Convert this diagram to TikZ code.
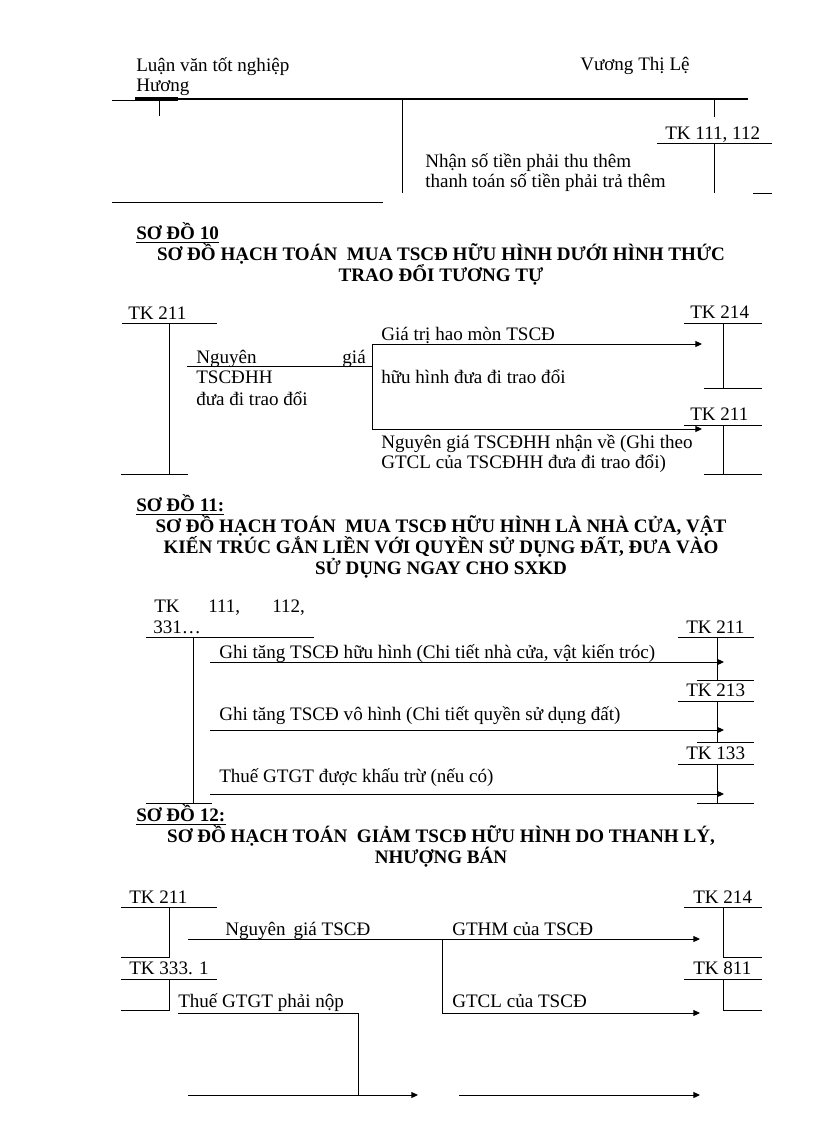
\documentclass[tikz,border=0pt]{standalone}
\usepackage{fontspec}
\setmainfont{Liberation Serif}
\usetikzlibrary{arrows.meta}
\newcommand\myfs{\fontsize{14.3}{16}\selectfont}
\begin{document}
\begin{tikzpicture}[x=0.75pt,y=-0.75pt,
  txt/.style={anchor=base west,inner sep=0,font=\myfs},
  txte/.style={anchor=base east,inner sep=0,font=\myfs},
  ttl/.style={anchor=base,inner sep=0,font=\myfs\bfseries},
  lbl/.style={anchor=base west,inner sep=0,font=\myfs\bfseries},
  ln/.style={line width=0.75pt,black},
  arr/.style={ln,-{Triangle[length=5pt,width=4.5pt]}},
  uline/.style={line width=1pt}]
\fill[white] (0,0) rectangle (816,1123);
\useasboundingbox (0,0) rectangle (816,1123);

% ---------- header ----------
\node[txt] (h1) at (136,72) {Luận văn tốt nghiệp};
\node[txt] (h2) at (136,92) {Hương};
\node[txt] (h3) at (580,71) {Vương Thị Lệ};
\coordinate (hl0) at (112,101); \coordinate (hl1) at (135,101);
\draw[ln] (hl0) -- (hl1);
\coordinate (hk0) at (135,99); \coordinate (hk1) at (748,99); \coordinate (hk2) at (178,99);
\draw[line width=1.6pt] (hk0) -- (hk1);
\draw[line width=2.3pt] (hk0) -- (hk2);
\coordinate (tk0) at (159,101); \coordinate (tk1) at (159,116);
\draw[ln] (tk0) -- (tk1);
\coordinate (v0) at (402,99); \coordinate (v1) at (402,193);
\draw[ln] (v0) -- (v1);
\coordinate (w0) at (714,99); \coordinate (w1) at (714,117);
\draw[ln] (w0) -- (w1);
\node[txt] (tk112) at (665,140) {TK 111, 112};
\coordinate (a0) at (657,144); \coordinate (a1) at (772,144);
\draw[ln] (a0) -- (a1);
\coordinate (w2) at (714,144); \coordinate (w3) at (714,193);
\draw[ln] (w2) -- (w3);
\node[txt] (n1) at (425,168) {Nhận số tiền phải thu thêm};
\node[txt] (n2) at (425,188) {thanh toán số tiền phải trả thêm};
\coordinate (s0) at (753,194); \coordinate (s1) at (772,194);
\draw[ln] (s0) -- (s1);
\coordinate (b0) at (112,203); \coordinate (b1) at (383,203);
\draw[ln] (b0) -- (b1);

% ---------- So do 10 ----------
\node[lbl] (sd10) at (136,239) {SƠ ĐỒ 10};
\draw[uline] ([yshift=-2.5pt]sd10.base west) -- ([yshift=-2.5pt]sd10.base east);
\node[ttl] (t10a) at (441,260) {SƠ ĐỒ HẠCH TOÁN \ MUA TSCĐ HỮU HÌNH DƯỚI HÌNH THỨC};
\node[ttl] (t10b) at (441,281) {TRAO ĐỔI TƯƠNG TỰ};

\node[txt] (L211) at (128,319) {TK 211};
\coordinate (L0) at (122,323); \coordinate (L1) at (217,323);
\coordinate (L2) at (169,323); \coordinate (L3) at (169,474);
\coordinate (L4) at (121,474); \coordinate (L5) at (188,474);
\draw[ln] (L0) -- (L1); \draw[ln] (L2) -- (L3); \draw[ln] (L4) -- (L5);
\node[txt] (ng) at (196,363) {Nguyên};
\node[txte] (gia) at (366,363) {giá};
\node[txt] (tsc) at (196,383) {TSCĐHH};
\node[txt] (dua) at (196,405) {đưa đi trao đổi};
\coordinate (m0) at (187,366); \coordinate (m1) at (372,366);
\coordinate (m2) at (372,344); \coordinate (m3) at (372,429);
\coordinate (r1) at (702,344); \coordinate (r2) at (702,429);
\draw[ln] (m0) -- (m1);
\draw[ln] (m2) -- (m3);
\draw[arr] (m2) -- (r1);
\draw[arr] (m3) -- (r2);
\node[txt] (g1) at (381,340) {Giá trị hao mòn TSCĐ};
\node[txt] (g2) at (381,383) {hữu hình đưa đi trao đổi};
\node[txt] (g3) at (381,448) {Nguyên giá TSCĐHH nhận về (Ghi theo};
\node[txt] (g4) at (381,468) {GTCL của TSCĐHH đưa đi trao đổi)};

\node[txt] (R214) at (690,318) {TK 214};
\coordinate (p0) at (684,323); \coordinate (p1) at (762,323);
\coordinate (p2) at (723,323); \coordinate (p3) at (723,388);
\coordinate (p4) at (704,388); \coordinate (p5) at (762,388);
\draw[ln] (p0) -- (p1); \draw[ln] (p2) -- (p3); \draw[ln] (p4) -- (p5);
\node[txt] (R211) at (690,420) {TK 211};
\coordinate (q0) at (684,425); \coordinate (q1) at (762,425);
\coordinate (q2) at (723,425); \coordinate (q3) at (723,474);
\coordinate (q4) at (704,474); \coordinate (q5) at (762,474);
\draw[ln] (q0) -- (q1); \draw[ln] (q2) -- (q3); \draw[ln] (q4) -- (q5);

% ---------- So do 11 ----------
\node[lbl] (sd11) at (136,511) {SƠ ĐỒ 11:};
\draw[uline] ([yshift=-2.5pt]sd11.base west) -- ([yshift=-2.5pt]sd11.base east);
\node[ttl] (t11a) at (441,532) {SƠ ĐỒ HẠCH TOÁN \ MUA TSCĐ HỮU HÌNH LÀ NHÀ CỬA, VẬT};
\node[ttl] (t11b) at (441,553) {KIẾN TRÚC GẮN LIỀN VỚI QUYỀN SỬ DỤNG ĐẤT, ĐƯA VÀO};
\node[ttl] (t11c) at (441,574) {SỬ DỤNG NGAY CHO SXKD};

\node[txt] (k1) at (154,612) {TK};
\node[txt] (k2) at (208,612) {111,};
\node[txt] (k3) at (272,612) {112,};
\node[txt] (k4) at (153,633) {331…};
\coordinate (c0) at (146,637); \coordinate (c1) at (314,637);
\coordinate (c2) at (193,637); \coordinate (c3) at (193,803);
\coordinate (c4) at (146,803); \coordinate (c5) at (212,803);
\draw[ln] (c0) -- (c1); \draw[ln] (c2) -- (c3); \draw[ln] (c4) -- (c5);
\node[txt] (e1) at (219,658) {Ghi tăng TSCĐ hữu hình (Chi tiết nhà cửa, vật kiến tróc)};
\node[txt] (e2) at (219,720) {Ghi tăng TSCĐ vô hình (Chi tiết quyền sử dụng đất)};
\node[txt] (e3) at (219,782) {Thuế GTGT được khấu trừ (nếu có)};
\coordinate (f1) at (210,662); \coordinate (f2) at (724,662);
\coordinate (f3) at (210,730); \coordinate (f4) at (724,730);
\coordinate (f5) at (210,794); \coordinate (f6) at (724,794);
\draw[arr] (f1) -- (f2);
\draw[arr] (f3) -- (f4);
\draw[arr] (f5) -- (f6);

\node[txt] (X211) at (686,633) {TK 211};
\coordinate (x0) at (678,637); \coordinate (x1) at (754,637);
\coordinate (x2) at (717,637); \coordinate (x3) at (717,680);
\coordinate (x4) at (697,680); \coordinate (x5) at (754,680);
\draw[ln] (x0) -- (x1); \draw[ln] (x2) -- (x3); \draw[ln] (x4) -- (x5);
\node[txt] (X213) at (686,696) {TK 213};
\coordinate (y0) at (678,701); \coordinate (y1) at (754,701);
\coordinate (y2) at (717,701); \coordinate (y3) at (717,742);
\coordinate (y4) at (697,742); \coordinate (y5) at (754,742);
\draw[ln] (y0) -- (y1); \draw[ln] (y2) -- (y3); \draw[ln] (y4) -- (y5);
\node[txt] (X133) at (686,759) {TK 133};
\coordinate (z0) at (678,764); \coordinate (z1) at (754,764);
\coordinate (z2) at (717,764); \coordinate (z3) at (717,803);
\coordinate (z4) at (697,803); \coordinate (z5) at (754,803);
\draw[ln] (z0) -- (z1); \draw[ln] (z2) -- (z3); \draw[ln] (z4) -- (z5);

% ---------- So do 12 ----------
\node[lbl] (sd12) at (136,821) {SƠ ĐỒ 12:};
\draw[uline] ([yshift=-2.5pt]sd12.base west) -- ([yshift=-2.5pt]sd12.base east);
\node[ttl] (t12a) at (441,842) {SƠ ĐỒ HẠCH TOÁN \ GIẢM TSCĐ HỮU HÌNH DO THANH LÝ,};
\node[ttl] (t12b) at (441,863) {NHƯỢNG BÁN};

\node[txt] (A211) at (129,903) {TK 211};
\coordinate (d0) at (121,907); \coordinate (d1) at (217,907);
\coordinate (d2) at (169,907); \coordinate (d3) at (169,957);
\coordinate (d4) at (121,957);
\draw[ln] (d0) -- (d1); \draw[ln] (d4) -- (d3) -- (d2);
\node[txt] (A333) at (129,974) {TK 333. 1};
\coordinate (e0) at (121,979); \coordinate (ee1) at (217,979);
\coordinate (ee2) at (169,979); \coordinate (ee3) at (169,1010);
\coordinate (ee4) at (121,1010);
\draw[ln] (e0) -- (ee1); \draw[ln] (ee4) -- (ee3) -- (ee2);

\node[txt] (u1) at (225,935) {Nguyên\, giá TSCĐ};
\node[txt] (u2) at (452,935) {GTHM của TSCĐ};
\node[txt] (u3) at (452,1007) {GTCL của TSCĐ};
\node[txt] (u4) at (178,1007) {Thuế GTGT phải nộp};
\coordinate (j0) at (188,939); \coordinate (j1) at (700,939);
\coordinate (j2) at (442,939); \coordinate (j3) at (442,1013);
\coordinate (j4) at (700,1013);
\draw[arr] (j0) -- (j1);
\draw[arr] (j2) -- (j3) -- (j4);
\coordinate (o0) at (178,1013); \coordinate (o1) at (358,1013);
\coordinate (o2) at (358,1095);
\draw[ln] (o0) -- (o1) -- (o2);
\coordinate (o3) at (188,1095); \coordinate (o4) at (418,1095);
\coordinate (o5) at (459,1095); \coordinate (o6) at (700,1095);
\draw[arr] (o3) -- (o4);
\draw[arr] (o5) -- (o6);

\node[txt] (B214) at (693,903) {TK 214};
\coordinate (g0) at (684,907); \coordinate (gg1) at (762,907);
\coordinate (gg2) at (723,907); \coordinate (gg3) at (723,957);
\coordinate (gg4) at (762,957);
\draw[ln] (g0) -- (gg1); \draw[ln] (gg2) -- (gg3) -- (gg4);
\node[txt] (B811) at (693,974) {TK 811};
\coordinate (i0) at (684,979); \coordinate (i1) at (762,979);
\coordinate (i2) at (723,979); \coordinate (i3) at (723,1010);
\coordinate (i4) at (762,1010);
\draw[ln] (i0) -- (i1); \draw[ln] (i2) -- (i3) -- (i4);
\end{tikzpicture}
\end{document}
